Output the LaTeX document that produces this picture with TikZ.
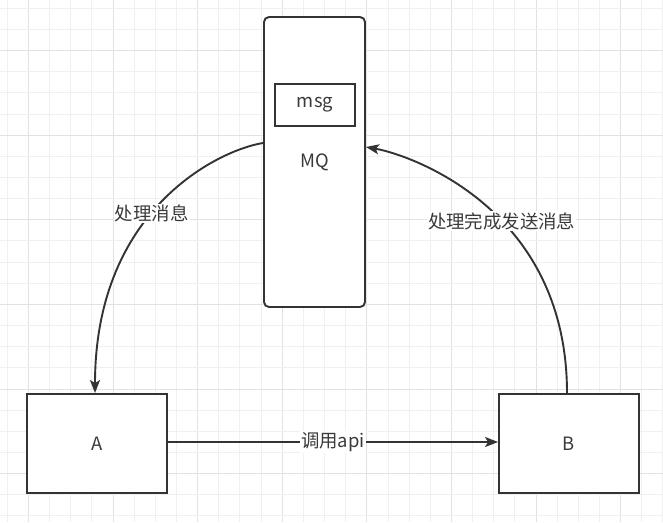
\documentclass[tikz,border=0pt]{standalone}
\usepackage{fontspec}
\setmainfont{Noto Sans CJK SC}
\usetikzlibrary{arrows.meta}
\definecolor{ink}{HTML}{333333}
\definecolor{txt}{HTML}{3A3A3A}
\definecolor{gridminor}{HTML}{F0F0F0}
\definecolor{gridmajor}{HTML}{E2E2E2}
\tikzset{
  box/.style={draw=ink, line width=1.9pt, fill=white, text=txt, font=\fontsize{18.4}{21}\selectfont, inner sep=0pt},
  lbl/.style={fill=white, text=txt, font=\fontsize{18.4}{21}\selectfont, inner sep=1pt},
  conn/.style={draw=ink, line width=1.9pt, -{Stealth[length=13pt,width=10pt,inset=3pt]}},
}
\begin{document}
\begin{tikzpicture}[x=1pt,y=-1pt]
\useasboundingbox (0,0) rectangle (663,522);
\fill[white] (0,0) rectangle (663,522);
% grid
\foreach \i in {0,...,31}{
  \pgfmathsetmacro{\gx}{7.3+\i*21.15}
  \pgfmathtruncatemacro{\m}{mod(\i+3,4)}
  \ifnum\m=0
    \draw[gridmajor, line width=1pt] (\gx,0) -- (\gx,522);
  \else
    \draw[gridminor, line width=1pt] (\gx,0) -- (\gx,522);
  \fi
}
\foreach \j in {0,...,24}{
  \pgfmathsetmacro{\gy}{8.3+\j*21.15}
  \pgfmathtruncatemacro{\m}{mod(\j+2,4)}
  \ifnum\m=0
    \draw[gridmajor, line width=1pt] (0,\gy) -- (663,\gy);
  \else
    \draw[gridminor, line width=1pt] (0,\gy) -- (663,\gy);
  \fi
}
% nodes
\node[box, rounded corners=5pt, minimum width=101pt, minimum height=290pt] (MQ) at (314.5,162) {MQ};
\node[box, minimum width=80pt, minimum height=42pt] (msg) at (315,105) {msg};
\node[box, minimum width=140pt, minimum height=99pt] (A) at (97,443.5) {A};
\node[box, minimum width=140pt, minimum height=99pt] (B) at (569,443.5) {B};
% connectors
\draw[conn] (A.east |- 0,442) -- node[lbl] {调用api} (B.west |- 0,442);
\draw[conn] ([yshift=19pt]MQ.west) .. controls +(-44,7) and +(0,-184) .. ([xshift=-2pt]A.north)
  node[lbl, pos=0.55] {处理消息};
\draw[conn] ([xshift=-2pt]B.north) .. controls +(0,-184) and +(45,8) .. ([yshift=15pt]MQ.east)
  node[lbl, pos=0.43] {处理完成发送消息};
\end{tikzpicture}
\end{document}
